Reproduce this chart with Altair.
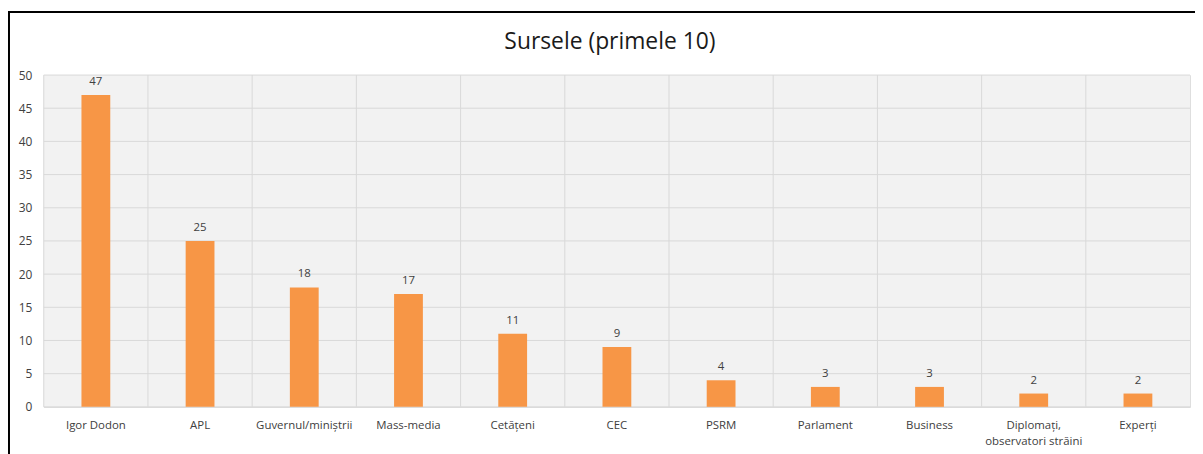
import altair as alt
import pandas as pd

categories = ["Igor Dodon", "APL", "Guvernul/miniștrii", "Mass-media", "Cetățeni", "CEC",
              "PSRM", "Parlament", "Business", "Diplomați, observatori străini", "Experți"]
values = [47, 25, 18, 17, 11, 9, 4, 3, 3, 2, 2]
y_ticks = [0, 5, 10, 15, 20, 25, 30, 35, 40, 45, 50]

W, H = 1154, 334
FONT = "Open Sans"
GRID = "#d9d9d9"
BAR = "#F79646"
TXT = "#404040"

df = pd.DataFrame({"cat": categories, "val": values})
grid_df = pd.DataFrame({"val": y_ticks})

x_sort = alt.Sort(categories)
x_scale = alt.Scale(paddingInner=0, paddingOuter=0)
y_scale = alt.Scale(domain=[0, 50])

x_axis = alt.Axis(labelAngle=0, ticks=False, domain=True, domainColor=GRID,
                  labelPadding=13, labelFont=FONT, labelFontSize=11.5,
                  labelColor=TXT, labelLineHeight=16, grid=False,
                  labelExpr="split(replace(datum.label, ', ', ',|'), '|')")
y_axis = alt.Axis(values=y_ticks, grid=False, ticks=False, domain=False,
                  labelPadding=12, labelFont=FONT, labelFontSize=12, labelColor=TXT)

base = alt.Chart(df)

bg = alt.Chart(alt.Data(values=[{}])).mark_rect(fill="#f2f2f2", strokeWidth=0).encode(
    x=alt.value(0), x2=alt.value("width"), y=alt.value(0), y2=alt.value("height")
)

ygrid = alt.Chart(grid_df).mark_rule(color=GRID, strokeWidth=1).encode(
    y=alt.Y("val:Q", scale=y_scale, axis=y_axis, title=None),
    x=alt.value(0), x2=alt.value("width"),
)

xgrid = base.mark_rule(color=GRID, strokeWidth=1).encode(
    x=alt.X("cat:N", sort=x_sort, bandPosition=0, scale=x_scale, axis=x_axis, title=None),
    y=alt.value(0), y2=alt.value("height"),
)

bars = base.mark_bar(color=BAR, size=29).encode(
    x=alt.X("cat:N", sort=x_sort, scale=x_scale, axis=x_axis, title=None),
    y=alt.Y("val:Q", scale=y_scale, axis=y_axis, title=None),
)

labels = base.mark_text(baseline="bottom", dy=-8, font=FONT, fontSize=11.5, color=TXT).encode(
    x=alt.X("cat:N", sort=x_sort, scale=x_scale, axis=x_axis, title=None),
    y=alt.Y("val:Q", scale=y_scale, axis=y_axis, title=None),
    text=alt.Text("val:Q"),
)

frame_top = alt.Chart(alt.Data(values=[{}])).mark_rule(color="#000000", strokeWidth=2).encode(
    x=alt.value(-36), x2=alt.value(1170), y=alt.value(-63.5)
)
frame_left = alt.Chart(alt.Data(values=[{}])).mark_rule(color="#000000", strokeWidth=2).encode(
    x=alt.value(-35), y=alt.value(-64.5), y2=alt.value(400)
)

chart = alt.layer(bg, ygrid, xgrid, bars, labels, frame_top, frame_left).properties(
    width=W, height=H,
    title=alt.Title("Sursele (primele 10)", font=FONT, fontSize=23, fontWeight="normal",
                    color="#1a1a1a", anchor="middle", frame="group", baseline="alphabetic",
                    offset=-62, dx=-7),
    autosize=alt.AutoSizeParams(type="none"),
    padding={"left": 36, "top": 66, "right": 5, "bottom": 46},
).configure_view(stroke=GRID, strokeWidth=1).configure(background="white")

chart.save("out.html", embed_options={"renderer": "svg", "actions": False})
